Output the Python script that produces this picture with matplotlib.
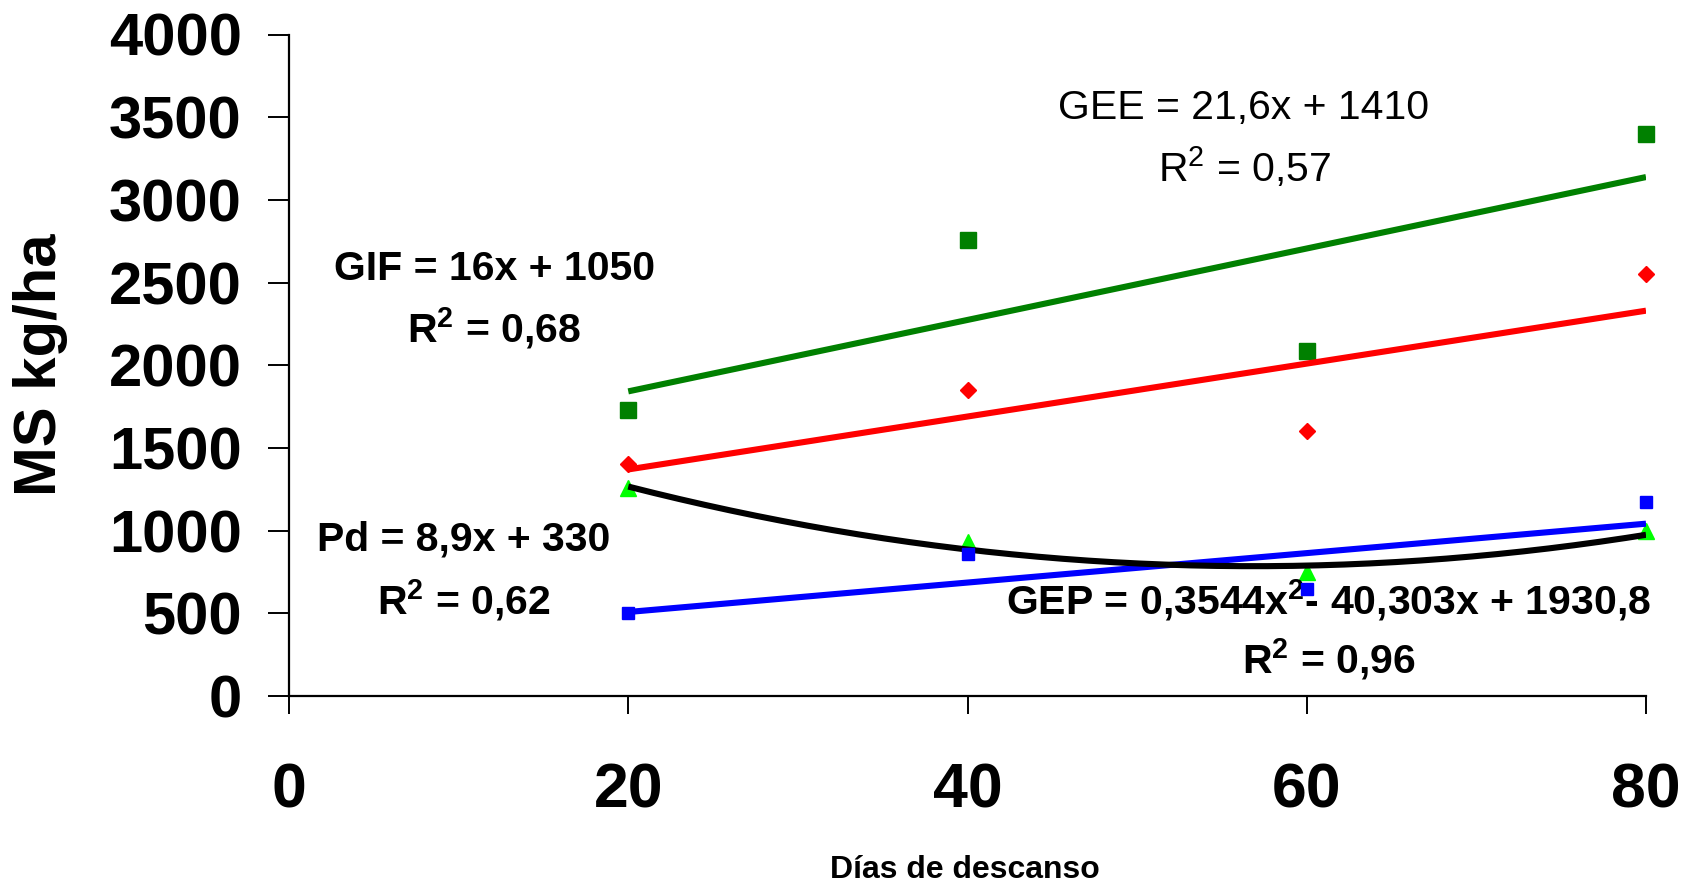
import matplotlib
matplotlib.use("Agg")
import matplotlib.pyplot as plt
import numpy as np

plt.rcParams['mathtext.default'] = 'regular'

# Rest days and dry matter (kg/ha) per pasture
dias = [20, 40, 60, 80]
gee = [1729, 2760, 2088, 3400]
gif = [1403, 1853, 1605, 2551]
pd_ = [502, 861, 646, 1175]
gep = [1259, 933, 750, 998]

# Fitted trend coefficients (highest power first) and R² values
gee_fit = [21.6, 1410]
gif_fit = [16, 1050]
pd_fit = [8.9, 330]
gep_fit = [0.3544, -40.303, 1930.8]
r2 = {"GEE": "0,57", "GIF": "0,68", "Pd": "0,62", "GEP": "0,96"}

x_ticks = [0, 20, 40, 60, 80]
y_ticks = [0, 500, 1000, 1500, 2000, 2500, 3000, 3500, 4000]

sans = ['Liberation Sans', 'DejaVu Sans']

fig = plt.figure(figsize=(16.92, 8.85), dpi=100)
ax = fig.add_axes([289 / 1692, 1 - 696 / 885, (1646 - 289) / 1692, (696 - 34.5) / 885])

ax.set_xlim(0, 80)
ax.set_ylim(0, 4000)
for s in ('top', 'right'):
    ax.spines[s].set_visible(False)
for s in ('left', 'bottom'):
    ax.spines[s].set_linewidth(1.6)

ax.set_xticks(x_ticks)
ax.set_yticks(y_ticks)
ax.tick_params(axis='x', direction='out', length=13, width=1.4, pad=34)
ax.tick_params(axis='y', direction='out', length=15, width=1.4, pad=19)
ax.set_xticklabels([str(v) for v in x_ticks], fontfamily=sans, fontweight='bold', fontsize=45)
ax.set_yticklabels([str(v) for v in y_ticks], fontfamily=sans, fontweight='bold', fontsize=43)

# Observed values
ax.plot(dias, gee, 's', color='#008000', markersize=11.5, zorder=2, clip_on=False)
ax.plot(dias, gif, 'D', color='#FF0000', markersize=8.5, zorder=2, clip_on=False)
ax.plot(dias, pd_, 's', color='#0000FF', markersize=8.5, zorder=5, clip_on=False)
ax.plot(dias, gep, '^', color='#00FF00', markersize=11, zorder=2, clip_on=False)

# Trend lines over the observed range
xs = np.linspace(dias[0], dias[-1], 200)
ax.plot(xs, np.polyval(gee_fit, xs), color='#008000', lw=4.4, zorder=3, solid_capstyle='butt')
ax.plot(xs, np.polyval(gif_fit, xs), color='#FF0000', lw=4.4, zorder=3, solid_capstyle='butt')
ax.plot(xs, np.polyval(pd_fit, xs), color='#0000FF', lw=4.4, zorder=3, solid_capstyle='butt')
ax.plot(xs, np.polyval(gep_fit, xs), color='black', lw=4.4, zorder=4, solid_capstyle='butt')


def fmt(v):
    return ('%g' % v).replace('.', ',')


eq_kw = dict(ha='center', va='center', fontfamily=sans, fontsize=29.5, clip_on=False)

ax.text(56.3, 3556, "GEE = %sx + %s" % (fmt(gee_fit[0]), fmt(gee_fit[1])), **eq_kw)
ax.text(56.3, 3197, "R$^2$ = %s" % r2["GEE"], **eq_kw)

ax.text(12.1, 2584, "GIF = %sx + %s" % (fmt(gif_fit[0]), fmt(gif_fit[1])), fontweight='bold', **eq_kw)
ax.text(12.1, 2225, "R$^2$ = %s" % r2["GIF"], fontweight='bold', **eq_kw)

ax.text(10.3, 946, "Pd = %sx + %s" % (fmt(pd_fit[0]), fmt(pd_fit[1])), fontweight='bold', **eq_kw)
ax.text(10.3, 581, "R$^2$ = %s" % r2["Pd"], fontweight='bold', **eq_kw)

ax.text(61.3, 581, "GEP = %sx$^2$- %sx + %s" % (fmt(gep_fit[0]), fmt(-gep_fit[1]), fmt(gep_fit[2])),
        fontweight='bold', **eq_kw)
ax.text(61.3, 222, "R$^2$ = %s" % r2["GEP"], fontweight='bold', **eq_kw)

fig.text(40 / 1692, 1 - 365 / 885, "MS kg/ha", rotation=90, ha='center', va='center',
         fontfamily=sans, fontweight='bold', fontsize=43)
fig.text(965 / 1692, 1 - 870 / 885, "Días de descanso", ha='center', va='center',
         fontfamily=sans, fontweight='bold', fontsize=23)

fig.savefig("out.png", dpi=100)
